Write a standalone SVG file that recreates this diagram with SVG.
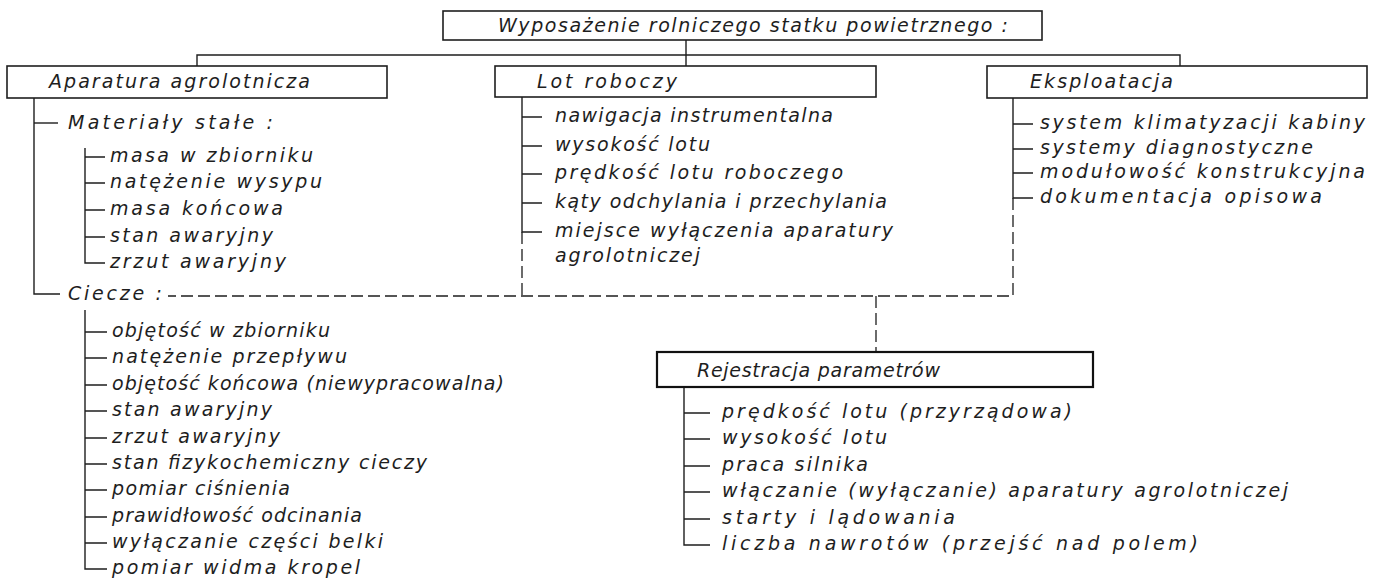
<svg xmlns="http://www.w3.org/2000/svg" width="1390" height="583" viewBox="0 0 1390 583">
<style>
.bg{fill:#ffffff}
.box{fill:none;stroke:#1e1e1e;stroke-width:1.6}
.boxb{fill:none;stroke:#111;stroke-width:2.2}
.ln{fill:none;stroke:#1e1e1e;stroke-width:1.4}
.ds{fill:none;stroke:#1e1e1e;stroke-width:1.3;stroke-dasharray:12 5}
text{font-family:"DejaVu Sans","Liberation Sans",sans-serif;font-style:italic;font-weight:200;font-size:19px;fill:#1e1e1e}
</style>
<rect class="bg" x="0" y="0" width="1390" height="583"/>
<g id="connectors">
<path class="ln" d="M197,66 V55 H1180 V66"/>
<path class="ln" d="M686,40 V66"/>
<path class="ln" d="M34,98 V294 H60"/>
<path class="ln" d="M34,123 H58"/>
<path class="ln" d="M85,148 V263 H105 M85,157 H105 M85,183 H105 M85,210 H105 M85,237 H105"/>
<path class="ln" d="M85,310 V569 H107 M85,332 H107 M85,358 H107 M85,385 H107 M85,411 H107 M85,438 H107 M85,464 H107 M85,490 H107 M85,517 H107 M85,543 H107"/>
<path class="ln" d="M522,97 V232 H542 M522,117 H542 M522,146 H542 M522,174 H542 M522,203 H542"/>
<path class="ds" d="M522,232 V296"/>
<path class="ln" d="M1013,98 V198 H1033 M1013,124 H1033 M1013,149 H1033 M1013,173 H1033"/>
<path class="ds" d="M1013,198 V296 H168"/>
<path class="ds" d="M876,296 V352"/>
<path class="ln" d="M684,387 V545 H710 M684,413 H710 M684,439 H710 M684,466 H710 M684,492 H710 M684,519 H710"/>
</g>
<g id="root">
<rect class="box" x="443" y="11" width="599" height="29"/>
<text x="498" y="32" textLength="510" lengthAdjust="spacing">Wyposażenie rolniczego statku powietrznego :</text>
</g>
<g id="aparatura">
<rect class="box" x="7" y="66" width="380" height="32"/>
<text x="49" y="88" textLength="261" lengthAdjust="spacing">Aparatura agrolotnicza</text>
</g>
<g id="lot">
<rect class="box" x="495" y="66" width="381" height="31"/>
<text x="537" y="88" textLength="140" lengthAdjust="spacing">Lot roboczy</text>
</g>
<g id="eksploatacja">
<rect class="box" x="987" y="66" width="380" height="32"/>
<text x="1030" y="88" textLength="143" lengthAdjust="spacing">Eksploatacja</text>
</g>
<g id="rejestracja">
<rect class="boxb" x="657" y="352" width="436" height="35"/>
<text x="697" y="377" textLength="243" lengthAdjust="spacing">Rejestracja parametrów</text>
</g>
<g id="materialy">
<text x="68" y="129" textLength="205" lengthAdjust="spacing">Materiały stałe :</text>
<text x="110" y="162" textLength="203" lengthAdjust="spacing">masa w zbiorniku</text>
<text x="110" y="188" textLength="212" lengthAdjust="spacing">natężenie wysypu</text>
<text x="110" y="215" textLength="173" lengthAdjust="spacing">masa końcowa</text>
<text x="110" y="242" textLength="163" lengthAdjust="spacing">stan awaryjny</text>
<text x="110" y="268" textLength="176" lengthAdjust="spacing">zrzut awaryjny</text>
</g>
<g id="ciecze">
<text x="68" y="300" textLength="94" lengthAdjust="spacing">Ciecze :</text>
<text x="112" y="337" textLength="218" lengthAdjust="spacing">objętość w zbiorniku</text>
<text x="112" y="363" textLength="235" lengthAdjust="spacing">natężenie przepływu</text>
<text x="112" y="390" textLength="392" lengthAdjust="spacing">objętość końcowa (niewypracowalna)</text>
<text x="112" y="416" textLength="160" lengthAdjust="spacing">stan awaryjny</text>
<text x="112" y="443" textLength="168" lengthAdjust="spacing">zrzut awaryjny</text>
<text x="112" y="469" textLength="315" lengthAdjust="spacing">stan fizykochemiczny cieczy</text>
<text x="112" y="495" textLength="178" lengthAdjust="spacing">pomiar ciśnienia</text>
<text x="112" y="522" textLength="250" lengthAdjust="spacing">prawidłowość odcinania</text>
<text x="112" y="548" textLength="271" lengthAdjust="spacing">wyłączanie części belki</text>
<text x="112" y="574" textLength="248" lengthAdjust="spacing">pomiar widma kropel</text>
</g>
<g id="lot-items">
<text x="555" y="122" textLength="278" lengthAdjust="spacing">nawigacja instrumentalna</text>
<text x="555" y="151" textLength="155" lengthAdjust="spacing">wysokość lotu</text>
<text x="555" y="179" textLength="288" lengthAdjust="spacing">prędkość lotu roboczego</text>
<text x="555" y="208" textLength="332" lengthAdjust="spacing">kąty odchylania i przechylania</text>
<text x="555" y="237" textLength="338" lengthAdjust="spacing">miejsce wyłączenia aparatury</text>
<text x="555" y="262" textLength="145" lengthAdjust="spacing">agrolotniczej</text>
</g>
<g id="eksploatacja-items">
<text x="1040" y="129" textLength="325" lengthAdjust="spacing">system klimatyzacji kabiny</text>
<text x="1040" y="154" textLength="273" lengthAdjust="spacing">systemy diagnostyczne</text>
<text x="1040" y="178" textLength="325" lengthAdjust="spacing">modułowość konstrukcyjna</text>
<text x="1040" y="203" textLength="282" lengthAdjust="spacing">dokumentacja opisowa</text>
</g>
<g id="rejestracja-items">
<text x="722" y="418" textLength="350" lengthAdjust="spacing">prędkość lotu (przyrządowa)</text>
<text x="722" y="444" textLength="165" lengthAdjust="spacing">wysokość lotu</text>
<text x="722" y="471" textLength="146" lengthAdjust="spacing">praca silnika</text>
<text x="722" y="497" textLength="566" lengthAdjust="spacing">włączanie (wyłączanie) aparatury agrolotniczej</text>
<text x="722" y="524" textLength="233" lengthAdjust="spacing">starty i lądowania</text>
<text x="722" y="550" textLength="476" lengthAdjust="spacing">liczba nawrotów (przejść nad polem)</text>
</g>
</svg>
